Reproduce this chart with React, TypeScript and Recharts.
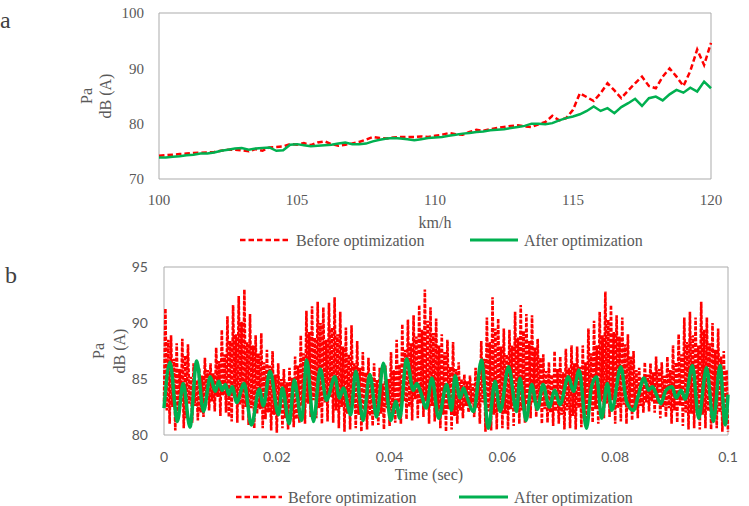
import React from "react";
import { Legend, Line, LineChart, ReferenceArea, XAxis, YAxis } from "recharts";

// (a) level against speed, one reading every 0.25 km/h from 100 to 120
const SPEED_START = 100;
const SPEED_STEP = 0.25;
const speedBefore = [
  74.2, 74.3, 74.4, 74.5, 74.6, 74.7, 74.75, 74.8, 74.9, 75.1,
  75.3, 75.3, 75.2, 75.0, 75.4, 75.1, 75.7, 75.8, 75.9, 76.3,
  76.2, 76.5, 76.1, 76.6, 76.8, 76.3, 76.0, 76.2, 76.4, 76.7,
  77.1, 77.6, 77.4, 77.3, 77.5, 77.6, 77.6, 77.6, 77.7, 77.6,
  77.8, 78.0, 78.3, 78.1, 78.0, 78.5, 78.9, 78.7, 79.0, 79.2,
  79.4, 79.6, 79.7, 79.5, 79.4, 79.9, 80.3, 81.4, 80.6, 81.0,
  82.5, 85.5, 84.8, 84.1, 85.5, 87.3, 86.0, 84.6, 86.0, 87.3,
  88.5, 86.8, 86.4, 88.5, 90.0, 88.5, 86.8, 89.5, 93.4, 90.6,
  94.6,
];
const speedAfter = [
  73.9, 73.9, 74.0, 74.1, 74.3, 74.4, 74.6, 74.6, 74.8, 75.1,
  75.3, 75.5, 75.6, 75.3, 75.5, 75.6, 75.7, 75.1, 75.2, 76.2,
  76.3, 76.1, 75.9, 76.0, 76.1, 76.2, 76.4, 76.6, 76.3, 76.3,
  76.4, 76.8, 77.1, 77.3, 77.4, 77.3, 77.2, 77.0, 77.2, 77.4,
  77.5, 77.6, 77.8, 78.0, 78.2, 78.3, 78.5, 78.6, 78.8, 78.9,
  79.0, 79.2, 79.4, 79.6, 80.0, 80.0, 79.9, 80.1, 80.6, 81.0,
  81.3, 81.7, 82.3, 83.1, 82.3, 82.8, 81.9, 83.0, 83.7, 84.5,
  83.2, 84.6, 84.9, 84.2, 85.3, 86.1, 85.6, 86.5, 85.8, 87.6,
  86.4,
];
const speedTicks = [100, 105, 110, 115, 120];
const speedDbTicks = [70, 80, 90, 100];

// (b) level against time; "before" read every 0.25 ms, "after" at its turning points
const TIME_STEP_MS = 0.25;
const timeBefore = [
  83.0, 91.3, 82.2, 88.5, 81.0, 88.9, 82.5, 86.8, 80.4, 88.2, 81.6, 85.9, 82.9, 88.6, 80.6, 87.1, 81.5, 88.1, 82.8, 85.2,
  81.1, 86.4, 82.6, 84.9, 81.3, 86.0, 82.0, 85.3, 81.6, 86.9, 83.1, 85.8, 82.2, 86.4, 83.0, 85.5, 82.1, 87.8, 83.4, 86.6,
  81.7, 89.4, 83.5, 87.2, 82.0, 90.6, 81.6, 88.4, 81.2, 91.6, 83.3, 89.0, 81.1, 92.4, 82.7, 90.1, 81.3, 93.0, 82.5, 88.3,
  80.9, 90.8, 82.4, 88.0, 80.6, 88.9, 81.9, 87.3, 82.3, 89.1, 80.6, 86.5, 81.4, 87.6, 82.0, 86.2, 80.4, 87.5, 81.8, 85.4,
  80.2, 86.4, 82.1, 85.0, 80.6, 85.9, 81.5, 84.7, 80.5, 86.0, 82.3, 85.1, 80.7, 87.0, 81.4, 86.2, 81.1, 88.9, 82.6, 87.3,
  81.0, 91.1, 82.8, 89.2, 81.6, 91.5, 83.1, 88.7, 81.5, 91.9, 82.4, 90.0, 81.0, 91.4, 82.9, 88.5, 81.2, 91.8, 83.4, 89.6,
  81.1, 92.3, 82.2, 89.0, 80.6, 91.0, 82.5, 87.9, 80.3, 89.6, 81.9, 87.2, 80.5, 89.8, 82.7, 86.4, 80.6, 88.4, 81.8, 86.0,
  80.3, 87.4, 82.2, 85.6, 80.5, 86.9, 81.7, 85.2, 80.8, 86.4, 82.0, 84.9, 80.9, 86.0, 81.9, 84.6, 80.5, 86.2, 82.4, 85.0,
  80.8, 87.4, 81.9, 85.8, 81.1, 88.5, 82.6, 86.3, 81.0, 89.9, 83.0, 87.6, 81.4, 90.3, 82.5, 88.2, 81.3, 90.7, 83.2, 88.8,
  81.5, 91.6, 82.8, 89.4, 81.6, 93.0, 83.0, 90.2, 81.0, 91.4, 82.6, 89.1, 81.2, 90.4, 82.1, 88.0, 80.6, 89.0, 81.8, 87.4,
  80.3, 88.5, 82.3, 86.1, 80.5, 88.3, 81.7, 85.9, 81.0, 86.5, 82.2, 85.0, 81.5, 85.4, 82.6, 84.8, 82.0, 85.3, 82.8, 84.6,
  81.6, 86.0, 82.4, 85.2, 81.0, 88.4, 82.9, 86.8, 80.3, 90.5, 82.1, 88.3, 80.4, 92.3, 81.8, 89.5, 80.5, 90.4, 82.6, 87.9,
  80.6, 89.5, 81.9, 87.2, 80.5, 89.4, 82.3, 88.0, 80.8, 91.0, 82.5, 88.7, 81.0, 91.6, 82.2, 89.3, 81.1, 90.8, 82.7, 88.4,
  81.5, 90.7, 82.9, 87.8, 81.6, 88.6, 82.4, 86.9, 81.0, 87.2, 82.3, 85.7, 81.1, 86.5, 82.0, 85.4, 80.8, 87.5, 82.1, 85.9,
  81.0, 87.0, 81.8, 85.6, 80.5, 87.7, 82.2, 86.0, 80.6, 88.0, 81.7, 86.4, 80.5, 87.9, 82.4, 86.1, 80.7, 88.0, 81.9, 86.5,
  81.0, 89.5, 82.6, 87.3, 81.1, 90.2, 82.3, 88.0, 81.0, 91.0, 83.0, 88.9, 81.5, 92.8, 82.8, 90.3, 81.6, 91.6, 83.1, 89.2,
  81.0, 90.7, 82.4, 88.8, 81.2, 90.5, 82.7, 88.1, 81.0, 89.0, 82.3, 87.0, 81.3, 87.5, 82.5, 85.8, 81.5, 86.0, 82.6, 85.1,
  82.0, 86.5, 82.9, 85.4, 82.1, 86.4, 83.0, 85.6, 82.0, 87.0, 82.8, 85.9, 81.5, 86.5, 82.5, 85.3, 81.6, 87.0, 82.4, 85.8,
  81.0, 88.0, 82.2, 86.5, 81.1, 89.0, 82.6, 87.2, 80.8, 90.5, 82.0, 88.3, 80.5, 91.0, 81.9, 88.9, 80.6, 90.5, 82.2, 88.0,
  80.5, 91.9, 81.8, 89.4, 80.6, 90.5, 82.1, 88.2, 80.5, 90.0, 81.7, 87.6, 80.6, 89.5, 82.0, 87.0, 80.3, 87.5, 81.6, 85.8,
  80.3,
];
const timeAfterMs = [
  0, 1.06, 2.36, 3.4, 4.6, 5.8, 7.0, 8.2, 9.1, 9.7, 10.3, 10.9, 11.5, 12.1, 12.9, 14.2, 15.5, 16.9, 17.6, 18.8,
  20.3, 21.0, 22.2, 23.1, 24.4, 25.3, 26.5, 27.7, 28.8, 30.3, 31.1, 31.8, 33.1, 34.0, 35.3, 36.5, 37.7, 38.9, 40.2, 41.1,
  41.8, 43.0, 44.2, 44.8, 45.4, 46.5, 47.5, 48.7, 50.1, 51.0, 51.6, 52.5, 53.1, 53.7, 54.9, 56.3, 57.5, 58.7, 59.6, 61.1,
  62.5, 63.1, 64.2, 65.2, 66.2, 67.2, 68.3, 69.3, 70.2, 71.7, 72.6, 73.6, 74.9, 75.8, 76.7, 77.6, 78.6, 79.4, 81.0, 82.0,
  83.2, 84.1, 85.1, 85.9, 86.6, 87.3, 88.1, 89.0, 90.1, 90.8, 91.7, 92.4, 93.7, 94.8, 96.2, 97.4, 98.6, 99.5, 100,
];
const timeAfterDb = [
  82.4, 86.5, 81.2, 84.6, 80.7, 86.6, 82.1, 85.2, 83.9, 84.8, 84.0, 84.5, 83.6, 84.3, 82.9, 84.6, 80.9, 84.1, 82.6, 85.7,
  81.8, 84.2, 81.0, 84.9, 81.3, 86.7, 81.2, 85.9, 83.1, 85.2, 83.3, 84.2, 81.8, 85.7, 81.3, 85.4, 81.6, 86.4, 81.3, 83.0,
  81.5, 86.8, 84.0, 84.6, 84.0, 82.4, 85.1, 81.5, 84.5, 82.2, 85.3, 83.3, 84.2, 83.4, 82.1, 86.7, 80.6, 84.8, 82.1, 86.1,
  82.1, 85.1, 81.3, 84.5, 82.3, 84.5, 82.5, 84.0, 82.7, 85.2, 83.9, 85.8, 80.6, 84.3, 85.2, 81.5, 84.6, 82.2, 86.1, 83.0,
  82.2, 83.5, 85.1, 84.0, 84.3, 83.6, 82.8, 84.0, 84.3, 83.3, 84.0, 83.2, 86.2, 81.5, 86.0, 81.2, 86.2, 80.9, 83.6,
];
const timeTicksMs = [0, 20, 40, 60, 80, 100];
const timeDbTicks = [80, 85, 90, 95];

const BEFORE = "Before optimization";
const AFTER = "After optimization";
const RED = "#FF0000";
const GREEN = "#00B050";
const GREY = "#595959";
const FRAME = "#ABABAB";
const SERIF = "'Liberation Serif', 'Times New Roman', serif";
const SANS = "Lato, 'Open Sans', sans-serif";

const speedData = speedBefore.map((v, i) => ({
  speed: SPEED_START + i * SPEED_STEP,
  before: v,
  after: speedAfter[i],
}));

const timeData = [
  ...timeBefore.map((v, i) => ({ t: i * TIME_STEP_MS, before: v })),
  ...timeAfterMs.map((t, i) => ({ t, after: timeAfterDb[i] })),
].sort((a, b) => a.t - b.t);

const YTitle = ({ xPa, xDb, y }: { xPa: number; xDb: number; y: number }) => (
  <g fill={GREY} fontFamily={SERIF} fontSize={16}>
    <text x={xPa} y={y} textAnchor="middle" dominantBaseline="central" transform={`rotate(-90 ${xPa} ${y})`}>
      Pa
    </text>
    <text x={xDb} y={y} textAnchor="middle" dominantBaseline="central" transform={`rotate(-90 ${xDb} ${y})`}>
      dB (A)
    </text>
  </g>
);

const XTitle = ({ x, y, text }: { x: number; y: number; text: string }) => (
  <text x={x} y={y} textAnchor="middle" dominantBaseline="central" fill={GREY} fontFamily={SERIF} fontSize={16}>
    {text}
  </text>
);

type LegendPos = { redX: number; greenX: number; red: number; green: number };

const LegendRow = ({ payload, pos }: any) => {
  const p: LegendPos = pos;
  const items = payload || [];
  return (
    <svg width={749} height={22} style={{ display: "block" }}>
      {items.map((entry: any, i: number) => {
        const isRed = entry.value === BEFORE;
        const x0 = isRed ? p.redX : p.greenX;
        const len = isRed ? p.red : p.green;
        return (
          <g key={i}>
            <line
              x1={x0}
              x2={x0 + len}
              y1={11}
              y2={11}
              stroke={entry.color}
              strokeWidth={isRed ? 2.5 : 3}
              strokeDasharray={isRed ? "5.5 3" : undefined}
            />
            <text x={x0 + len + 6} y={11} dominantBaseline="central" fill={GREY} fontFamily={SERIF} fontSize={16}>
              {entry.value}
            </text>
          </g>
        );
      })}
    </svg>
  );
};

const SpeedChart = () => (
  <LineChart width={749} height={255} data={speedData} margin={{ top: 13, right: 38, left: 0, bottom: 0 }}>
    <XAxis
      dataKey="speed"
      type="number"
      domain={[100, 120]}
      ticks={speedTicks}
      interval={0}
      height={54}
      axisLine={false}
      tickLine={false}
      tickMargin={9}
      tick={{ fill: GREY, fontSize: 15, fontFamily: SERIF }}
      label={() => <XTitle x={435} y={222} text="km/h" />}
    />
    <YAxis
      type="number"
      domain={[70, 100]}
      ticks={speedDbTicks}
      interval={0}
      width={159}
      axisLine={false}
      tickLine={false}
      tickMargin={9}
      tick={{ fill: GREY, fontSize: 15, fontFamily: SERIF }}
      label={() => <YTitle xPa={86} xDb={105} y={96} />}
    />
    <ReferenceArea x1={100} x2={120} y1={70} y2={100} fill="none" stroke={FRAME} strokeWidth={1} />
    <Legend
      verticalAlign="bottom"
      height={22}
      wrapperStyle={{ left: 0, top: 229, width: 749, height: 22 }}
      content={(props: any) => <LegendRow payload={props.payload} pos={{ redX: 240, greenX: 470, red: 50, green: 48 }} />}
    />
    <Line
      dataKey="before"
      name={BEFORE}
      type="linear"
      stroke={RED}
      strokeWidth={2.5}
      strokeDasharray="5.5 3"
      dot={false}
      activeDot={false}
      isAnimationActive={false}
    />
    <Line
      dataKey="after"
      name={AFTER}
      type="linear"
      stroke={GREEN}
      strokeWidth={2.5}
      dot={false}
      activeDot={false}
      isAnimationActive={false}
    />
  </LineChart>
);

const TimeChart = () => (
  <LineChart width={749} height={256} data={timeData} margin={{ top: 17, right: 21, left: 0, bottom: 0 }}>
    <XAxis
      dataKey="t"
      type="number"
      domain={[0, 100]}
      ticks={timeTicksMs}
      interval={0}
      height={49}
      axisLine={false}
      tickLine={false}
      tickMargin={11}
      tickFormatter={(v: number) => String(v / 1000)}
      tick={{ fill: GREY, fontSize: 14, fontFamily: SANS }}
      label={() => <XTitle x={429} y={224} text="Time (sec)" />}
    />
    <YAxis
      type="number"
      domain={[80, 95]}
      ticks={timeDbTicks}
      interval={0}
      width={164}
      axisLine={false}
      tickLine={false}
      tickMargin={10}
      tick={{ fill: GREY, fontSize: 14, fontFamily: SANS }}
      label={() => <YTitle xPa={98} xDb={119} y={101} />}
    />
    <ReferenceArea x1={0} x2={100} y1={80} y2={95} fill="none" stroke={FRAME} strokeWidth={1} />
    <Legend
      verticalAlign="bottom"
      height={22}
      wrapperStyle={{ left: 0, top: 236, width: 749, height: 22 }}
      content={(props: any) => <LegendRow payload={props.payload} pos={{ redX: 236, greenX: 459, red: 46, green: 49 }} />}
    />
    <Line
      dataKey="before"
      name={BEFORE}
      type="linear"
      stroke={RED}
      strokeWidth={2.6}
      strokeDasharray="4 1.5"
      connectNulls
      dot={false}
      activeDot={false}
      isAnimationActive={false}
    />
    <Line
      dataKey="after"
      name={AFTER}
      type="monotone"
      stroke={GREEN}
      strokeWidth={3.5}
      connectNulls
      dot={false}
      activeDot={false}
      isAnimationActive={false}
    />
  </LineChart>
);

const panelLetter = (top: number, left: number): React.CSSProperties => ({
  position: "absolute",
  top,
  left,
  fontFamily: SERIF,
  fontSize: 24,
  lineHeight: "24px",
  color: "#404040",
});

export default function App() {
  return (
    <div style={{ position: "absolute", left: 0, top: 0, width: 749, height: 506, background: "#fff", overflow: "hidden" }}>
      <div style={{ position: "absolute", left: 0, top: 0 }}>
        <SpeedChart />
      </div>
      <div style={{ position: "absolute", left: 0, top: 250 }}>
        <TimeChart />
      </div>
      <div style={panelLetter(8, 0)}>a</div>
      <div style={panelLetter(263, 5)}>b</div>
    </div>
  );
}
